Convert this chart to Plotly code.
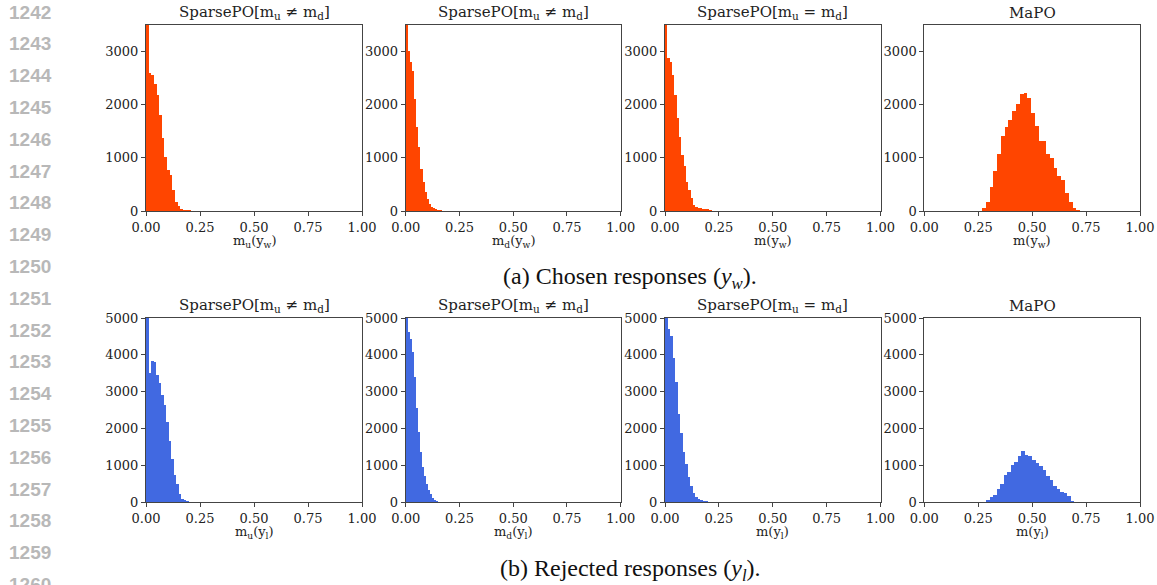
import plotly.graph_objects as go

# ---------------- data ----------------
titles = ["SparsePO[m<sub>u</sub> ≠ m<sub>d</sub>]", "SparsePO[m<sub>u</sub> ≠ m<sub>d</sub>]",
          "SparsePO[m<sub>u</sub> = m<sub>d</sub>]", "MaPO"]
xlabels_chosen = ["m<sub>u</sub>(y<sub>w</sub>)", "m<sub>d</sub>(y<sub>w</sub>)", "m(y<sub>w</sub>)", "m(y<sub>w</sub>)"]
xlabels_rejected = ["m<sub>u</sub>(y<sub>l</sub>)", "m<sub>d</sub>(y<sub>l</sub>)", "m(y<sub>l</sub>)", "m(y<sub>l</sub>)"]

# chosen responses: bin start, bin width, counts
chosen_start = [0.0, 0.0, 0.0, 0.2675]
chosen_width = [0.0122, 0.0098, 0.0108, 0.0175]
chosen_counts = [
    [4500, 2595, 2557, 2386, 2178, 1812, 1370, 1010, 776, 682, 398, 176, 95, 44, 25, 15, 10, 6, 4],
    [4500, 3005, 2797, 2639, 2115, 1585, 1199, 790, 543, 366, 221, 127, 82, 51, 32, 20, 10, 5],
    [4500, 2873, 2797, 2557, 2178, 1755, 1395, 1061, 840, 537, 398, 240, 107, 70, 57, 50, 45, 40, 30, 15, 8],
    [51, 165, 449, 752, 1074, 1415, 1585, 1718, 1888, 2021, 2210, 2229, 2134, 1850, 1604, 1320,
     1320, 1074, 998, 809, 657, 581, 335, 165, 51, 15, 5],
]

# rejected responses
rejected_start = [0.0, 0.0, 0.0, 0.286]
rejected_width = [0.0117, 0.0093, 0.0116, 0.0164]
rejected_counts = [
    [6000, 3503, 3844, 3817, 3441, 3234, 2921, 2634, 2177, 1649, 1174, 744, 484, 215, 90, 45, 20, 8],
    [6000, 4624, 4427, 4086, 3396, 2563, 1890, 1371, 949, 707, 484, 314, 207, 99, 54, 27, 10],
    [6000, 4713, 4516, 3925, 3253, 2384, 1863, 1352, 1022, 681, 430, 251, 126, 72, 54, 36, 20, 10],
    [54, 134, 188, 349, 484, 726, 806, 995, 1075, 1237, 1398, 1290, 1237, 1129, 1048, 968,
     860, 699, 591, 430, 349, 269, 242, 161, 27],
]

chosen_yticks = [0, 1000, 2000, 3000]
rejected_yticks = [0, 1000, 2000, 3000, 4000, 5000]
xticks = [0, 0.25, 0.5, 0.75, 1.0]
xticklabels = ["0.00", "0.25", "0.50", "0.75", "1.00"]
line_numbers = list(range(1242, 1261))
captions = ["(a) Chosen responses (<i>y<sub>w</sub></i>).", "(b) Rejected responses (<i>y<sub>l</sub></i>)."]

# ---------------- layout geometry ----------------
W, H = 1157, 585
col_px = [(146, 362), (405.7, 620.7), (665, 880.5), (924.3, 1140)]
row_px = [(25, 211), (318, 502)]
ORANGE = "#FF4500"
BLUE = "#4169E1"
SERIF = "DejaVu Serif"
AX = "#444444"

fig = go.Figure()
layout = {}
annotations = []

rows = [
    (chosen_start, chosen_width, chosen_counts, ORANGE, [0, 3500], chosen_yticks, xlabels_chosen),
    (rejected_start, rejected_width, rejected_counts, BLUE, [0, 5000], rejected_yticks, xlabels_rejected),
]

idx = 0
for r, (starts, widths, counts, color, yr, yt, xl) in enumerate(rows):
    top, bot = row_px[r]
    for c in range(4):
        idx += 1
        xa = "x" if idx == 1 else f"x{idx}"
        ya = "y" if idx == 1 else f"y{idx}"
        w = widths[c]
        xs = [starts[c] + w * (i + 0.5) for i in range(len(counts[c]))]
        fig.add_trace(go.Bar(x=xs, y=counts[c], width=w, marker=dict(color=color, line=dict(width=0)),
                             xaxis=xa, yaxis=ya, showlegend=False, hoverinfo="skip"))
        x0, x1 = col_px[c]
        layout["xaxis" if idx == 1 else f"xaxis{idx}"] = dict(
            domain=[x0 / W, x1 / W], anchor=ya, range=[0, 1], tickvals=xticks, ticktext=xticklabels,
            showgrid=False, zeroline=False, showline=True, linecolor=AX, linewidth=1, mirror=True,
            ticks="outside", ticklen=4, tickcolor=AX, automargin=False,
            tickfont=dict(family=SERIF, size=13, color="#222"),
        )
        layout["yaxis" if idx == 1 else f"yaxis{idx}"] = dict(
            domain=[1 - bot / H, 1 - top / H], anchor=xa, range=yr, tickvals=yt,
            showgrid=False, zeroline=False, showline=True, linecolor=AX, linewidth=1, mirror=True,
            ticks="outside", ticklen=4, tickcolor=AX, automargin=False,
            tickfont=dict(family=SERIF, size=13, color="#222"),
        )
        cx = (x0 + x1) / 2 / W
        annotations.append(dict(text=titles[c], x=cx, y=1 - (top - 1) / H, xref="paper", yref="paper",
                                xanchor="center", yanchor="bottom", showarrow=False,
                                font=dict(family=SERIF, size=15, color="#222")))
        annotations.append(dict(text=xl[c], x=cx, y=1 - (bot + 30) / H, xref="paper", yref="paper",
                                xanchor="center", yanchor="middle", showarrow=False,
                                font=dict(family=SERIF, size=13, color="#222")))

for k, cap in enumerate(captions):
    yc = [278, 570][k]
    annotations.append(dict(text=cap, x=630 / W, y=1 - yc / H, xref="paper", yref="paper",
                            xanchor="center", yanchor="middle", showarrow=False,
                            font=dict(family="Liberation Serif", size=24, color="#111")))

for i, n in enumerate(line_numbers):
    yc = 12 + i * 31.8
    annotations.append(dict(text="<b>%d</b>" % n, x=7 / W, y=1 - yc / H, xref="paper", yref="paper",
                            xanchor="left", yanchor="middle", showarrow=False,
                            font=dict(family="Liberation Sans", size=19, color="#b8b8b8")))

fig.update_layout(width=W, height=H, margin=dict(l=0, r=0, t=0, b=0, autoexpand=False),
                  plot_bgcolor="white", paper_bgcolor="white", bargap=0, hovermode=False,
                  annotations=annotations, **layout)
fig.write_html("out.html", config={"displayModeBar": False, "staticPlot": True},
               post_script="document.body.style.margin='0';document.body.style.overflow='hidden';")
